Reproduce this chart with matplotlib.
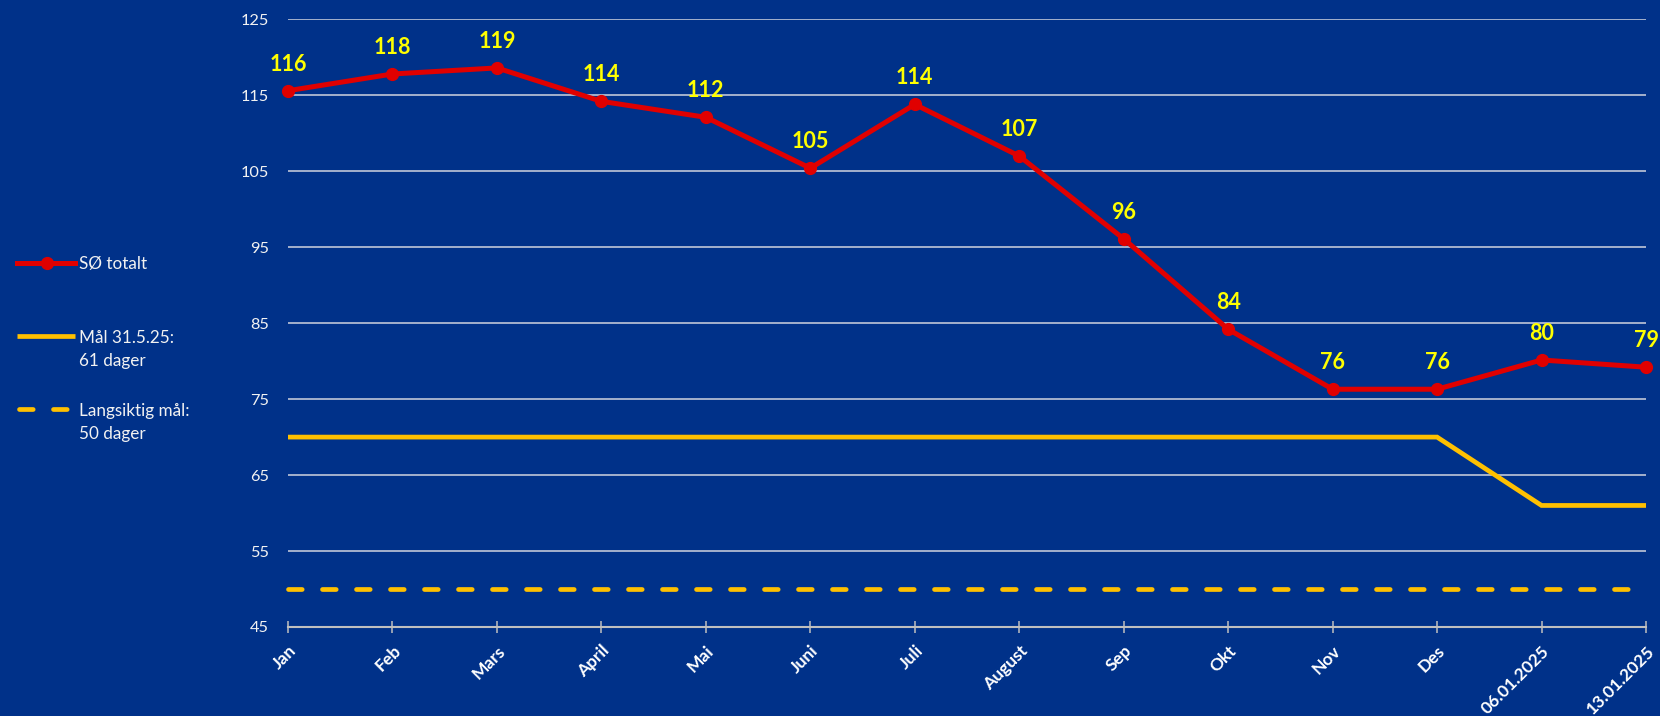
import matplotlib
matplotlib.use('Agg')
import matplotlib.pyplot as plt
from matplotlib.lines import Line2D

# ---------------- data ----------------
categories = ['Jan', 'Feb', 'Mars', 'April', 'Mai', 'Juni', 'Juli', 'August',
              'Sep', 'Okt', 'Nov', 'Des', '06.01.2025', '13.01.2025']
so_totalt = [115.6, 117.8, 118.6, 114.2, 112.1, 105.4, 113.8, 107.0,
             96.1, 84.2, 76.3, 76.3, 80.15, 79.2]
maal_31_5_25 = [70, 70, 70, 70, 70, 70, 70, 70, 70, 70, 70, 70, 61, 61]
langsiktig_maal = [50, 50, 50, 50, 50, 50, 50, 50, 50, 50, 50, 50, 50, 50]
yticks = [45, 55, 65, 75, 85, 95, 105, 115, 125]
legend_lines = [['SØ totalt'], ['Mål 31.5.25:', '61 dager'], ['Langsiktig mål:', '50 dager']]

# ---------------- style ----------------
BG = '#003189'
RED = '#E00000'
GOLD = '#FFC000'
LABEL_YELLOW = '#FFFF00'
GRID = '#D0D4DE'
AXIS_GRAY = '#BFBFBF'
FONT = ['Lato', 'DejaVu Sans']
plt.rcParams['font.family'] = FONT

W, H = 1660, 716
fig = plt.figure(figsize=(W / 100, H / 100), dpi=100, facecolor=BG)
ax = fig.add_axes([288 / W, 1 - 627 / H, (1646 - 288) / W, (627 - 19.3) / H])
ax.set_facecolor(BG)

x = list(range(len(categories)))

# grid
for yv in yticks[1:]:
    ax.axhline(yv, color=GRID, lw=1.1, zorder=1)

# lines
ax.plot(x, langsiktig_maal, color=GOLD, lw=3.4, dashes=(2.9, 4.3),
        dash_capstyle='round', zorder=2, clip_on=False)
ax.plot(x, maal_31_5_25, color=GOLD, lw=3.4, solid_capstyle='butt',
        solid_joinstyle='miter', zorder=3, clip_on=False)
ax.plot(x, so_totalt, color=RED, lw=3.6, marker='o', markersize=8.5,
        zorder=4, clip_on=False)

for xi, v in zip(x, so_totalt):
    ax.annotate(f'{v:.0f}', (xi, v), xytext=(0, 14.4), textcoords='offset points',
                ha='center', va='baseline', color=LABEL_YELLOW, fontsize=15.5,
                fontweight='bold', annotation_clip=False, zorder=5)

ax.set_xlim(0, len(categories) - 1)
ax.set_ylim(45, 125)
ax.set_yticks(yticks)
ax.set_yticklabels([str(t) for t in yticks])
ax.set_xticks(x)
ax.set_xticklabels(categories, rotation=45, ha='right', va='top',
                   rotation_mode='anchor', fontweight='bold', fontsize=12.5,
                   color='white')

for s in ['top', 'right', 'left']:
    ax.spines[s].set_visible(False)
ax.spines['bottom'].set_color(AXIS_GRAY)
ax.spines['bottom'].set_linewidth(1.5)
ax.spines['bottom'].set_zorder(1.5)

ax.tick_params(axis='y', length=0, pad=13.7, labelsize=11.8, labelcolor='#F2F2F2')
ax.tick_params(axis='x', direction='inout', length=8.6, width=1.1,
               color=AXIS_GRAY, pad=7)

# ---------------- legend (figure pixels) ----------------
def fx(px):
    return px / W

def fy(py):
    return 1 - py / H

handle_y = [263.3, 336, 409.3]
baselines = [[269.3], [342.7, 366], [416, 439]]

fig.add_artist(Line2D([fx(17), fx(75)], [fy(handle_y[0])] * 2, color=RED, lw=3.6,
                      transform=fig.transFigure))
fig.add_artist(Line2D([fx(47)], [fy(handle_y[0])], color=RED, marker='o', markersize=8.5,
                      transform=fig.transFigure))
fig.add_artist(Line2D([fx(17), fx(75)], [fy(handle_y[1])] * 2, color=GOLD, lw=3.4,
                      solid_capstyle='butt', transform=fig.transFigure))
fig.add_artist(Line2D([fx(19), fx(75)], [fy(handle_y[2])] * 2, color=GOLD, lw=3.4,
                      dashes=(2.9, 4.3), dash_capstyle='round', transform=fig.transFigure))

for lines, bls in zip(legend_lines, baselines):
    for txt, b in zip(lines, bls):
        fig.text(fx(79), fy(b), txt, color='#F2F2F2', fontsize=12.3, ha='left',
                 va='baseline')

fig.savefig('out.png', dpi=100, facecolor=BG)
